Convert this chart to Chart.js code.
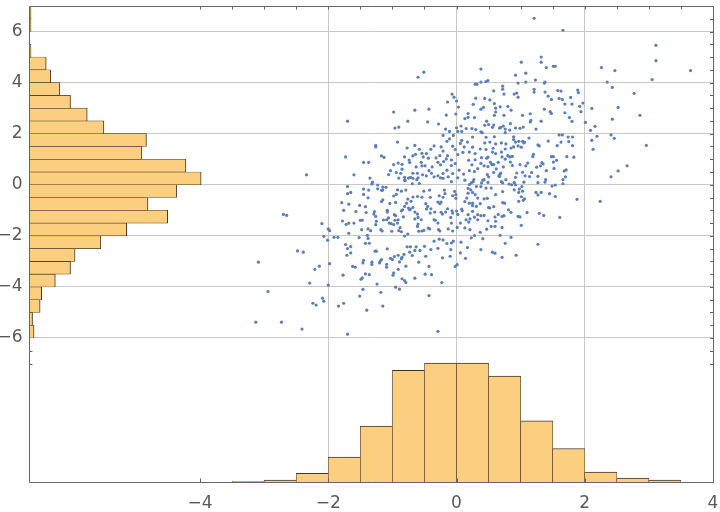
<!DOCTYPE html>
<html><head><meta charset="utf-8">
<script src="https://cdn.jsdelivr.net/npm/chart.js@4/dist/chart.umd.min.js"></script>
<style>html,body{margin:0;padding:0;background:#fff;}canvas{display:block;}</style>
</head><body>
<canvas id="c" width="720" height="512"></canvas>
<script>
const xTickValues = [-4, -2, 0, 2, 4];
const yTickValues = [-6, -4, -2, 0, 2, 4, 6];
const xGridValues = [-2, 0, 2];
const binWidth = 0.5;
const xBinStarts = [-3.5, -3, -2.5, -2, -1.5, -1, -0.5, 0, 0.5, 1, 1.5, 2, 2.5, 3];
const xBinCounts = [1, 3, 13, 38, 85, 170, 181, 181, 161, 93, 51, 15, 6, 3];
const yBinStarts = [-6, -5.5, -5, -4.5, -4, -3.5, -3, -2.5, -2, -1.5, -1, -0.5, 0, 0.5, 1, 1.5, 2, 2.5, 3, 3.5, 4, 4.5, 5, 5.5, 6, 6.5];
const yBinCounts = [3, 2, 7, 8, 17, 27, 30, 47, 64, 91, 78, 97, 113, 103, 74, 77, 49, 38, 27, 20, 14, 11, 1, 0, 1, 1];
const scatterPoints = [
[-0.60,4.21],[-0.51,4.41],[-0.98,2.85],[-0.65,2.92],[-0.43,2.96],[-1.70,2.49],[-0.76,2.49],[-0.96,2.22],[-0.90,2.26],[-0.45,2.46],[-0.28,2.38],[-1.26,1.54],[-1.26,1.48],[-0.92,1.67],[-1.73,1.09],[-1.17,1.13],[-1.13,1.07],[-1.45,0.88],[-1.37,0.88],[-2.34,0.39],[-1.60,0.39],[-1.35,0.26],
[-0.07,3.55],[-0.04,3.43],[0.00,3.28],[-0.14,3.24],[0.03,3.04],[-0.16,2.73],[-0.01,2.77],[0.18,2.79],[0.18,2.64],[0.13,2.59],[0.28,2.63],[0.30,3.39],[0.29,3.94],[0.32,3.94],[0.26,3.15],[-0.17,2.18],[0.00,2.23],[-0.11,2.09],[0.02,2.09],[-0.05,1.93],[0.08,2.09],[0.07,2.30],[0.15,2.20],[0.24,2.20],[0.30,2.16],[0.08,1.74],[0.25,1.87],
[-0.77,1.44],[-0.65,1.54],[-0.58,1.39],[-0.54,1.23],[-0.52,1.09],[-0.68,1.13],[-0.64,1.19],[-0.44,1.04],[-0.40,1.39],[-0.35,1.52],[-0.24,1.48],[-0.21,1.32],[-0.26,1.14],[-0.29,0.88],[-0.25,0.78],[-0.14,1.14],[-0.08,0.97],[-0.02,0.83],[-0.08,0.75],[0.02,1.18],[0.10,1.27],[0.12,1.48],[0.20,1.28],[0.29,1.22],[0.29,0.98],[0.19,0.96],[0.24,0.78],[0.33,0.63],[0.04,0.57],[-0.06,0.44],[-0.15,0.57],[-0.21,0.44],[-0.29,0.35],[-0.39,0.45],[-0.43,0.55],[-0.49,0.74],[-0.54,0.74],[-0.63,0.70],[-0.68,0.45],[-0.72,0.29],[-0.81,0.29],[-0.87,0.45],[-0.94,0.48],[-1.03,0.55],[-1.06,0.40],[-0.98,0.79],[-0.91,0.85],[-0.85,0.80],[-0.74,0.97],[-0.81,1.09],[-0.73,0.87],[-0.60,0.27],[-0.53,0.39],[-0.47,0.35],[-0.35,0.31],[-0.25,0.27],[-0.13,0.31],[0.02,0.27],[0.11,0.42],[0.20,0.55],[0.28,0.52],[-0.61,0.45],[-0.90,0.26],[-0.85,0.61],[-0.32,1.05],[-0.16,1.01],[-0.38,0.70],[-0.55,0.88],[-0.47,1.22],[-0.20,0.91],[-0.02,1.38],[0.06,1.62],[0.17,1.67],[-0.06,1.51],[-0.15,1.70],[-0.21,1.93],[-0.11,1.80],[0.25,1.47],
[1.21,6.52],[1.66,6.05],[3.11,5.46],[3.11,4.86],[3.65,4.47],[2.26,4.59],[2.47,4.47],[3.05,4.12],[2.35,4.02],[2.43,3.81],[2.77,3.58],[2.52,3.03],[2.86,2.72],[2.43,2.57],[2.11,2.99],[2.01,2.44],[2.16,2.29],[2.09,2.13],[2.41,1.95],[2.46,1.82],[2.19,1.90],[2.11,1.74],[2.13,1.39],[2.96,1.54],[2.66,0.74],[2.52,0.54],[2.41,0.31],
[1.32,5.00],[1.32,4.80],[1.01,4.80],[1.40,4.59],[1.51,4.64],[1.54,4.64],[0.92,4.29],[1.08,4.37],[0.38,4.53],[0.46,4.04],[0.49,4.08],[0.38,4.02],[0.96,3.98],[1.08,4.02],[1.23,4.10],[1.38,4.02],[1.37,3.98],[0.72,3.86],[0.72,3.74],[0.58,3.68],[0.74,3.55],[0.90,3.55],[0.94,3.59],[0.96,3.43],[1.21,3.74],[1.21,3.63],[1.38,3.63],[1.43,3.47],[1.48,3.34],[1.58,3.69],[1.63,3.67],[1.60,3.38],[1.65,3.34],[1.78,3.42],[1.89,3.71],[1.90,3.61],[1.97,3.20],[1.92,3.07],[1.80,3.16],[1.69,3.16],[0.44,3.38],[0.52,3.32],[0.59,3.18],[0.38,2.96],[0.42,3.03],[0.61,3.00],[0.68,3.05],[0.80,3.07],[0.85,2.92],[0.61,2.85],[0.74,2.72],[0.59,2.72],[0.47,2.49],[0.50,2.36],[0.58,2.34],[0.56,2.25],[0.67,2.22],[0.69,2.25],[0.44,2.33],[0.38,2.07],[0.40,2.04],[0.46,1.86],[0.59,1.88],[0.73,2.30],[0.76,2.18],[0.84,2.39],[0.76,2.04],[0.83,2.14],[0.89,1.88],[0.99,2.21],[1.04,2.26],[0.92,2.22],[1.03,2.72],[1.15,2.78],[1.15,2.46],[1.16,2.52],[1.32,2.49],[1.37,2.96],[1.46,2.86],[1.48,2.79],[1.60,1.95],[1.65,1.95],[1.74,1.87],[1.81,1.87],[1.69,2.82],[1.76,2.63],[1.80,2.48],[1.94,2.86],[1.24,2.18],[1.13,1.83],[1.06,1.67],[1.03,1.70],[0.97,1.70],[0.92,1.67],[0.89,1.77],[0.77,1.60],[0.70,1.64],[0.61,1.60],[0.52,1.67],[0.44,1.64],[0.37,1.40],[0.46,1.38],[0.57,1.43],[0.56,1.28],[0.61,1.22],[0.70,1.28],[0.76,1.40],[0.85,1.44],[0.89,1.48],[0.96,1.52],[1.01,1.47],[1.05,1.64],[1.20,1.19],[1.19,1.10],[1.27,1.56],[1.29,1.52],[1.43,1.71],[1.57,1.53],[1.63,1.67],[1.75,1.69],[1.81,1.53],[1.72,1.10],[1.83,1.08],[1.48,1.10],[1.51,1.10],[1.56,0.96],[1.51,0.89],[1.33,0.87],[1.35,0.82],[1.31,0.74],[1.11,0.85],[1.08,0.74],[0.99,0.79],[1.03,0.49],[1.07,0.35],[0.94,0.46],[0.92,0.29],[0.84,0.89],[0.87,0.75],[0.80,1.14],[0.83,1.09],[0.87,1.11],[0.76,1.00],[0.71,1.09],[0.65,0.88],[0.58,0.79],[0.53,0.88],[0.55,0.79],[0.47,1.04],[0.49,1.08],[0.39,1.06],[0.38,0.84],[0.43,0.74],[0.49,0.71],[0.62,0.62],[0.73,0.70],[0.66,0.35],[0.68,0.42],[0.58,0.48],[0.48,0.40],[0.50,0.31],[1.17,0.48],[1.14,0.32],[1.25,0.69],[1.40,0.55],[1.52,0.64],[1.68,0.54],[1.71,0.58],[1.70,0.31],
[-1.70,-0.07],[-2.70,-1.16],[-2.65,-1.20],[-2.10,-1.52],[-2.00,-1.73],[-1.98,-1.80],[-2.07,-2.02],[-2.01,-2.17],[-1.91,-2.06],[-1.85,-2.06],[-2.48,-2.59],[-2.39,-2.64],[-3.09,-3.03],[-1.98,-3.09],[-2.14,-3.19],[-2.21,-3.31],[-2.29,-3.85],[-2.00,-3.93],[-2.94,-4.18],[-2.09,-4.44],[-2.07,-4.56],[-2.24,-4.64],[-2.19,-4.71],[-1.84,-4.75],[-1.76,-4.64],[-3.13,-5.38],[-2.73,-5.38],[-2.41,-5.65],[-1.70,-5.85],[-1.15,-4.75],[-1.40,-4.91],[-1.51,-4.36],[-1.46,-4.10],[-1.18,-4.21],[-1.24,-3.89],[-0.95,-4.01],[-0.89,-4.09],[-1.77,-3.54],[-1.49,-3.70],[-1.47,-3.65],[-1.62,-3.20],[-1.58,-3.23],[-1.42,-3.49],[-1.36,-3.52],[-1.09,-3.23],[-0.99,-3.54],[-0.98,-3.45],[-0.91,-3.31],[-0.79,-3.19],[-0.81,-3.75],[-0.79,-3.83],[-0.85,-3.68],[-0.65,-3.66],[-0.43,-3.20],[-0.49,-3.50],[-0.39,-3.52],[-0.23,-3.83],[-0.43,-4.34],[-0.29,-5.74],[-0.02,-3.20],[0.01,-3.13],[-0.22,-2.86],[-0.10,-2.80],[0.14,-2.88],[-0.40,-2.54],[-0.29,-2.49],[-0.15,-2.30],[-0.08,-2.28],[-0.09,-2.54],[-0.05,-2.21],[0.06,-2.67],[0.17,-2.46],[0.23,-2.08],[0.28,-1.99],[0.07,-2.25],[-0.21,-2.16],[-0.27,-2.13],[-0.35,-2.21],[-0.50,-2.41],[-0.57,-2.57],[-0.48,-2.80],[-0.65,-2.57],[-0.63,-2.43],[-0.72,-2.43],[-0.77,-2.43],[-0.69,-2.77],[-0.73,-2.64],[-0.59,-3.03],[-0.89,-3.02],[-0.86,-2.90],[-0.82,-2.73],[-0.85,-2.84],[-0.97,-2.81],[-0.91,-2.76],[-1.08,-2.51],[-1.03,-2.88],[-1.00,-2.93],[-1.27,-2.60],[-1.25,-2.60],[-1.09,-3.12],[-1.20,-3.06],[-1.17,-2.93],[-1.19,-2.99],[-1.32,-3.12],[-1.32,-3.03],[-1.45,-2.96],[-1.46,-3.06],[-1.42,-2.29],[-1.36,-2.29],[-1.38,-2.10],[-1.39,-1.98],[-1.52,-2.07],[-1.68,-1.90],[-1.73,-2.34],[-1.70,-2.50],[-1.65,-2.42],[-1.71,-2.76],[-1.65,-2.67],[-1.78,-1.42],[-1.79,-0.70],[-1.76,-1.00],[-1.68,-0.76],[-1.72,-1.55],[-1.68,-1.50],[-1.60,-1.50],[-1.70,-0.35],[-1.65,-0.30],[-1.57,-1.05],[-1.51,-0.81],[-1.42,-0.86],[-1.45,-0.38],[-1.45,-0.17],[-1.38,-0.51],[-1.37,-0.21],[-1.50,-1.39],[-1.47,-1.39],[-1.48,-1.76],[-1.41,-1.09],[-1.34,-1.80],[-1.38,-1.73],[-1.28,-1.05],[-1.29,-1.15],[-1.26,-1.24],[-1.31,0.10],[-1.32,0.03],[-1.23,-0.01],[-1.23,-0.16],[-1.15,-0.09],[-1.17,-0.22],[-1.10,-0.10],[-1.26,-1.56],[-1.25,-1.43],[-1.18,-1.76],[-1.16,-1.81],[-1.14,-1.38],[-1.17,-0.66],[-1.15,-0.59],[-1.08,-1.00],[-1.08,-1.07],[-1.09,-1.37],[-1.06,-1.30],[-1.01,-1.82],[-1.02,-1.52],[-1.05,-1.50],[-1.04,-0.73],[-0.98,-0.44],[-0.95,-0.69],[-0.94,-0.38],[-0.86,-0.25],[-0.92,-0.20],[-0.97,-1.17],[-0.95,-1.21],[-0.96,-1.39],[-0.91,-1.37],[-0.98,-1.56],[-0.92,-1.50],[-0.88,-1.68],[-0.90,-1.80],[-0.86,-1.02],[-0.84,-0.98],[-0.81,-0.85],[-0.78,-0.72],[-0.73,-0.98],[-0.75,-0.91],[-0.83,-1.26],[-0.86,-1.84],[-0.81,-2.01],[-0.76,-1.93],[-0.72,-0.95],[-0.68,-0.89],[-0.65,-1.07],[-0.61,-1.15],[-0.60,-1.28],[-0.65,-1.34],[-0.60,-1.54],[-0.61,-1.63],[-0.55,-1.37],[-0.54,-1.81],[-0.54,-0.49],[-0.51,-0.25],[-0.48,-0.74],[-0.47,-0.95],[-0.45,-0.85],[-0.40,-0.94],[-0.41,-1.11],[-0.35,-1.37],[-0.33,-1.39],[-0.34,-1.07],[-0.29,-1.50],[-0.24,-1.08],[-0.22,-1.15],[-0.17,-1.07],[-0.14,-0.94],[-0.07,-1.02],[-0.06,-1.11],[0.00,-1.03],[0.02,-1.16],[0.08,-0.95],[0.09,-1.02],[0.06,-1.50],[-0.08,-1.50],[-0.09,-1.28],[-0.13,-1.73],[-0.28,-1.76],[-0.26,-1.81],[-0.44,-1.70],[-0.42,-1.73],[-0.59,-1.82],[-0.51,-1.79],[-0.06,-1.81],[0.01,-1.67],[0.21,-1.34],[0.19,-1.46],[0.28,-1.27],[0.33,-1.37],[0.13,-1.69],[0.21,-1.76],[0.13,-0.66],[0.16,-0.52],[0.25,-0.72],[0.25,-0.82],[0.29,-0.39],[0.23,0.07],[-0.03,-0.26],[-0.06,-0.43],[-0.01,-0.39],[-0.01,-0.53],[-0.18,-0.35],[-0.21,-0.49],[-0.27,-0.43],[-0.29,-0.68],[-0.26,-0.74],[-0.24,-0.68],[-0.41,-0.49],[-0.61,-0.46],[-0.68,-0.48],[-0.76,-0.56],[-0.71,-0.65],[-0.69,0.04],[-0.62,0.20],[-0.80,0.16],[-0.75,0.26],
[-0.81,0.18],[-0.68,0.25],[-0.58,0.05],[-0.21,0.25],[-0.08,0.12],[0.13,0.18],[0.26,0.12],[0.41,0.18],[0.70,0.12],[-1.15,-0.21],[-0.79,-0.21],[-0.42,-0.21],[-0.19,-0.21],[0.18,-0.14],
[0.20,0.01],[0.27,0.20],[0.31,-0.07],[0.22,-0.20],[0.18,-0.33],[0.25,-0.30],[0.33,-0.52],[0.20,-0.72],[0.31,-0.85],[0.25,-1.04],[0.18,-1.17],[0.33,-1.17],[0.15,-1.37],
[1.88,-0.57],[2.24,-0.65],[1.61,-1.28],[1.27,-2.33],[0.93,-2.76],[0.71,-2.84],[0.56,-2.64],[0.60,-2.68],[0.38,-2.54],[0.76,-2.29],[0.85,-2.06],[0.68,-1.98],[0.41,-2.11],[0.37,-1.86],[0.47,-1.74],[0.60,-1.63],[0.54,-1.63],[0.61,-1.43],[0.60,-1.26],[0.71,-1.67],[0.49,-1.41],[0.38,-1.21],[0.43,-1.20],[0.65,-1.16],[0.71,-1.24],[0.74,-1.21],[1.01,-1.59],[0.96,-1.24],[0.99,-1.26],[0.85,-1.08],[0.81,-0.98],[1.10,-1.09],[1.29,-1.12],[1.36,-1.20],[0.52,-0.91],[0.58,-0.86],[0.50,-0.89],[0.72,-0.70],[0.75,-0.72],[0.43,-0.55],[0.48,-0.53],[0.37,-0.74],[0.61,-0.39],[0.72,-0.27],[0.82,0.03],[0.86,0.00],[0.92,0.00],[0.97,-0.30],[0.97,-0.65],[1.03,-0.25],[1.06,-0.55],[1.04,-0.61],[1.01,-0.47],[1.24,-0.30],[1.27,-0.40],[1.32,-0.30],[1.38,0.10],[1.39,0.20],[1.45,-0.35],[1.49,-0.05],[1.54,-0.01],[1.54,-0.46],[1.66,0.04],[1.66,0.20],[1.27,0.08],[1.27,0.33],[1.05,0.10],[1.02,-0.07],[0.90,-0.20],[0.98,-0.17],[0.67,0.33],[0.72,0.07],[0.77,0.20],[0.69,0.46],[0.39,0.07],[0.43,0.20],[0.49,0.09],[0.46,-0.13],[0.54,-0.13],[0.38,-0.07],[0.90,0.09]
];

const xMin = -6.66, xMax = 4;
const yMin = -11.64, yMax = 7;
const fmt = v => v < 0 ? '\u2212' + (-v) : String(v);
const gridColor = '#c8c8c8';
const frameColor = '#666666';
const barFill = '#FCCF80';
const barEdge = '#3f3628';
const labelFont = { family: 'DejaVu Sans', size: 17 };

const framePlugin = {
  id: 'frame',
  afterDatasetsDraw(chart) {
    const { ctx, chartArea: a, scales } = chart;
    const sx = scales.x, sy = scales.y;
    const L = Math.floor(a.left) + 0.5, R = Math.floor(a.right) + 0.5;
    const T = Math.floor(a.top) + 0.5, B = Math.floor(a.bottom) + 0.5;
    ctx.save();
    ctx.strokeStyle = frameColor;
    ctx.lineWidth = 1;
    ctx.beginPath();
    ctx.rect(L, T, R - L, B - T);
    for (let v = -4; v <= 4; v += 0.5) {
      const p = Math.round(sx.getPixelForValue(v)) + 0.5;
      ctx.moveTo(p, T); ctx.lineTo(p, T + 3);
    }
    xTickValues.forEach(v => {
      const p = Math.round(sx.getPixelForValue(v)) + 0.5;
      ctx.moveTo(p, B); ctx.lineTo(p, B - 4);
    });
    for (let v = -7; v <= 6.5; v += 0.5) {
      const p = Math.round(sy.getPixelForValue(v)) + 0.5;
      ctx.moveTo(R, p); ctx.lineTo(R - 3.5, p);
    }
    [-6.5, -7].forEach(v => {
      const p = Math.round(sy.getPixelForValue(v)) + 0.5;
      ctx.moveTo(L, p); ctx.lineTo(L + 3, p);
    });
    ctx.stroke();
    ctx.restore();
  }
};

const hiddenIndex = (axis, min, max, vals) => ({
  type: 'linear', axis, position: axis === 'x' ? 'bottom' : 'left', display: false,
  min, max, offset: false, grid: { offset: false },
  afterBuildTicks: s => { s.ticks = vals.map(v => ({ value: v })); }
});

const chart = new Chart(document.getElementById('c'), {
  type: 'scatter',
  data: {
    datasets: [
      {
        type: 'scatter',
        xAxisID: 'x', yAxisID: 'y',
        data: scatterPoints.map(p => ({ x: p[0], y: p[1] })),
        pointRadius: 1.6,
        pointBackgroundColor: '#5B7FB8',
        pointBorderWidth: 0,
        showLine: false
      },
      {
        type: 'bar',
        xAxisID: 'xb', yAxisID: 'yb',
        grouped: false,
        data: xBinStarts.map((s, i) => ({ x: s + binWidth / 2, y: xBinCounts[i] })),
        backgroundColor: barFill,
        borderColor: barEdge,
        borderWidth: { top: 1, left: 0.6, right: 0.6, bottom: 0 },
        borderSkipped: false
      },
      {
        type: 'bar',
        indexAxis: 'y',
        xAxisID: 'xl', yAxisID: 'yl',
        grouped: false,
        data: yBinStarts.map((s, i) => ({ y: s + binWidth / 2, x: yBinCounts[i] })),
        backgroundColor: barFill,
        borderColor: barEdge,
        borderWidth: { right: 1, top: 0.6, bottom: 0.6, left: 0 },
        borderSkipped: false
      }
    ]
  },
  options: {
    responsive: false,
    devicePixelRatio: 1,
    animation: false,
    events: [],
    layout: { padding: { left: 0, right: 7, top: 6, bottom: 0 } },
    plugins: { legend: { display: false }, tooltip: { enabled: false } },
    scales: {
      x: {
        type: 'linear', axis: 'x', position: 'bottom', min: xMin, max: xMax, offset: false,
        afterBuildTicks: s => { s.ticks = xTickValues.map(v => ({ value: v })); },
        afterFit: s => { s.height = 30; s.paddingLeft = 0; s.paddingRight = 0; },
        grid: {
          offset: false,
          color: c => (c.tick && xGridValues.includes(c.tick.value)) ? gridColor : 'rgba(0,0,0,0)',
          drawTicks: false, lineWidth: 1
        },
        border: { display: false },
        ticks: { padding: 11, color: '#5a5a5a', font: labelFont, callback: v => fmt(v), maxRotation: 0, autoSkip: false }
      },
      y: {
        type: 'linear', axis: 'y', position: 'left', min: yMin, max: yMax, offset: false,
        afterBuildTicks: s => { s.ticks = yTickValues.map(v => ({ value: v })); },
        afterFit: s => { s.width = 29.5; s.paddingTop = 0; s.paddingBottom = 0; },
        grid: { offset: false, color: gridColor, drawTicks: false, lineWidth: 1 },
        border: { display: false },
        ticks: { padding: 7, color: '#5a5a5a', font: labelFont, callback: v => fmt(v), autoSkip: false }
      },
      xb: hiddenIndex('x', xMin, xMax, xTickValues),
      yl: hiddenIndex('y', yMin, yMax, yTickValues),
      yb: { type: 'linear', axis: 'y', position: 'left', display: false, min: 0, max: 724 },
      xl: { type: 'linear', axis: 'x', position: 'bottom', display: false, min: 0, max: 450 }
    }
  },
  plugins: [framePlugin]
});

// bar thickness = one bin width, measured through the chart's own scales
const sxb = chart.scales.xb, syl = chart.scales.yl;
chart.data.datasets[1].barThickness = Math.abs(sxb.getPixelForValue(binWidth) - sxb.getPixelForValue(0));
chart.data.datasets[2].barThickness = Math.abs(syl.getPixelForValue(binWidth) - syl.getPixelForValue(0));
chart.update();
</script>
</body></html>
